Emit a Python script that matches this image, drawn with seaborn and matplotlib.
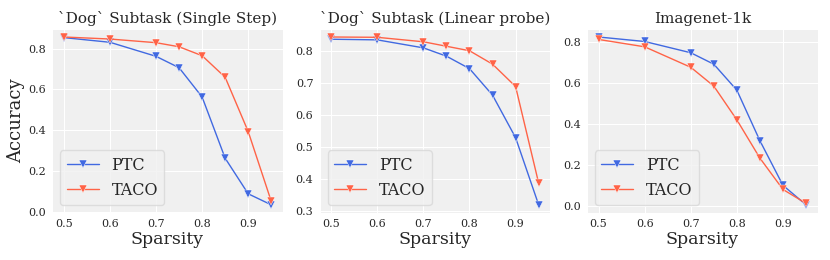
import numpy as np
import pandas as pd
import matplotlib
matplotlib.use("Agg")
import matplotlib.pyplot as plt
import seaborn as sns

sparsity = [0.5, 0.6, 0.7, 0.75, 0.8, 0.85, 0.9, 0.95]
titles = ["`Dog` Subtask (Single Step)", "`Dog` Subtask (Linear probe)", "Imagenet-1k"]
methods = ["PTC", "TACO"]

ptc_single = [0.855, 0.832, 0.763, 0.707, 0.563, 0.262, 0.087, 0.033]
taco_single = [0.858, 0.848, 0.830, 0.810, 0.766, 0.660, 0.393, 0.050]
ptc_linear = [0.838, 0.836, 0.811, 0.785, 0.746, 0.663, 0.530, 0.320]
taco_linear = [0.845, 0.844, 0.830, 0.816, 0.802, 0.760, 0.690, 0.388]
ptc_imagenet = [0.825, 0.803, 0.748, 0.692, 0.565, 0.318, 0.100, 0.005]
taco_imagenet = [0.813, 0.777, 0.677, 0.585, 0.420, 0.233, 0.080, 0.012]

series = [(ptc_single, taco_single), (ptc_linear, taco_linear), (ptc_imagenet, taco_imagenet)]

sns.set_style("darkgrid", {"axes.facecolor": "#f0f0f0", "grid.color": "white"})
plt.rcParams['font.family'] = ['DejaVu Serif']

palette = {"PTC": "#4169E1", "TACO": "#FF6347"}

fig, axes = plt.subplots(1, 3, figsize=(8.3, 2.6), dpi=100)
fig.subplots_adjust(left=0.063, right=0.985, top=0.89, bottom=0.18, wspace=0.16)

for ax, title, (p, t) in zip(axes, titles, series):
    df = pd.DataFrame({
        "Sparsity": sparsity * 2,
        "Accuracy": p + t,
        "Method": ["PTC"] * len(sparsity) + ["TACO"] * len(sparsity),
    })
    sns.lineplot(data=df, x="Sparsity", y="Accuracy", hue="Method", palette=palette,
                 marker="v", markersize=5.5, markeredgewidth=0.3, linewidth=1.0, ax=ax)
    ax.set_title(title, fontsize=11, pad=4)
    ax.set_xticks([0.5, 0.6, 0.7, 0.8, 0.9])
    ax.set_xlim(0.475, 0.975)
    ax.tick_params(labelsize=8, pad=1)
    ax.set_xlabel("Sparsity", fontsize=12.5, labelpad=1)
    ax.set_ylabel("")
    leg = ax.legend(loc="lower left", fontsize=11.5, frameon=True, markerscale=1.1)
    leg.get_frame().set_facecolor("#f0f0f0")
    leg.get_frame().set_edgecolor("#d8d8d8")

axes[0].set_ylabel("Accuracy", fontsize=13, labelpad=2)
axes[0].set_yticks([0.0, 0.2, 0.4, 0.6, 0.8])
axes[1].set_yticks([0.3, 0.4, 0.5, 0.6, 0.7, 0.8])
axes[2].set_yticks([0.0, 0.2, 0.4, 0.6, 0.8])

fig.savefig("out.png", dpi=100)
